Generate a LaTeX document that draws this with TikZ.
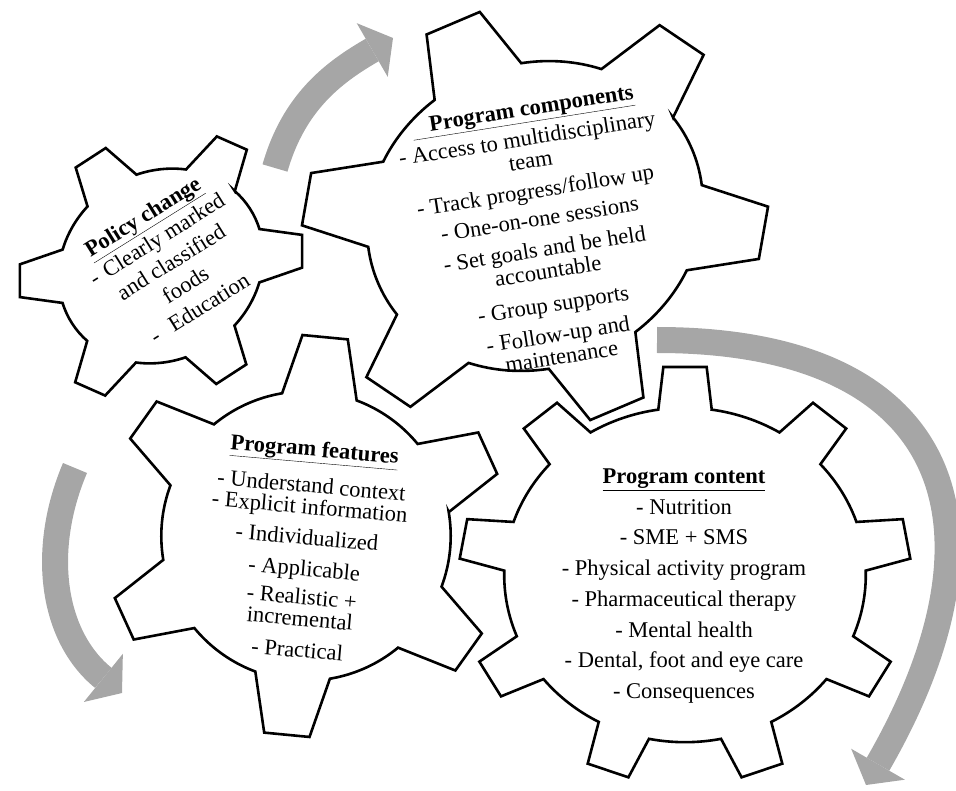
\documentclass[tikz,border=0pt]{standalone}
\usepackage{fontspec}
\setmainfont{Liberation Serif}
\usetikzlibrary{arrows.meta}
\definecolor{arrowgray}{RGB}{166,166,166}

% gear outline of unit radius: #1 teeth, #2 angle of first tooth,
% #3 root radius, #4 half tooth width at tip, #5 half tooth width at root
\newcommand{\gearoutline}[5]{%
  \pgfmathsetmacro{\gpitch}{360/#1}%
  \draw[gear] ({#2-#5}:#3)
    \foreach \k in {1,...,#1} {
      -- ({#2+(\k-1)*\gpitch-#4}:1) -- ({#2+(\k-1)*\gpitch+#4}:1)
      -- ({#2+(\k-1)*\gpitch+#5}:#3)
      arc[start angle={#2+(\k-1)*\gpitch+#5}, end angle={#2+\k*\gpitch-#5}, radius=#3]
    } -- cycle;
}

\begin{document}
\begin{tikzpicture}[x=1pt, y=1pt]
  \tikzset{
    gear/.style={draw, line width=2.6pt},
    cyclearrow/.style={draw=arrowgray, line width=26pt, -{Triangle[length=24pt, width=62pt, line width=0pt]}},
    geartext/.style={align=center, inner sep=0pt}
  }
  \useasboundingbox (0,0) rectangle (956,-791);

  % arrows between the gears
  \coordinate (toparrowstart)   at (275,-168);
  \coordinate (toparrowend)     at (393,-38);
  \coordinate (rightarrowstart) at (657,-340);
  \coordinate (rightarrowend)   at (866,-785);
  \coordinate (leftarrowstart)  at (75,-468);
  \coordinate (leftarrowend)    at (122,-693);

  \draw[cyclearrow] (toparrowstart) to[out=74, in=210] (toparrowend);
  \draw[cyclearrow] (rightarrowstart) .. controls +(295,0) and +(150,260) .. (rightarrowend);
  \draw[cyclearrow] (leftarrowstart) to[out=247, in=141] (leftarrowend);

  % gears
  \begin{scope}[shift={(161,-266)}, rotate=33, xscale=147, yscale=130]
    \gearoutline{6}{30}{0.72}{7}{16}
  \end{scope}
  \begin{scope}[shift={(535,-216)}, rotate=23, xscale=237, yscale=211]
    \gearoutline{6}{30}{0.72}{7}{16}
  \end{scope}
  \begin{scope}[shift={(306,-536)}, scale=201]
    \gearoutline{6}{24.5}{0.72}{6.5}{15}
  \end{scope}
  \begin{scope}[shift={(685,-575)}, xscale=226, yscale=209]
    \gearoutline{9}{90}{0.80}{5.5}{8.5}
  \end{scope}

  % texts
  \node[geartext, rotate=32, font=\fontsize{22.5}{27}\selectfont] (policy) at (171,-262)
    {\underline{\textbf{Policy change}}\\-\hspace{8pt}Clearly marked\\and classified\\foods\\-\hspace{14pt}Education};

  \node[geartext, rotate=9, font=\fontsize{22.5}{22.5}\selectfont] (components) at (542,-233)
    {\underline{\hspace{18pt}\textbf{Program components}}\\[6pt]
     - Access to multidisciplinary\\team\\[8pt]
     - Track progress/follow up\\[6pt]
     - One-on-one sessions\\[8pt]
     - Set goals and be held\\accountable\\[11pt]
     - Group supports\\[8pt]
     - Follow-up and\\maintenance};

  \node[geartext, rotate=-5, font=\fontsize{22.5}{21.5}\selectfont] (features) at (306,-549)
    {\underline{\textbf{Program features}}\\[13pt]
     - Understand context\\- Explicit information\\[9pt]
     - Individualized\\[10pt]
     - Applicable\\[7pt]
     - Realistic +\\incremental\\[10pt]
     - Practical};

  \node[geartext, font=\fontsize{22.5}{30.7}\selectfont] (content) at (684,-586)
    {\underline{\textbf{Program content}}\\- Nutrition\\- SME + SMS\\- Physical activity program\\
     - Pharmaceutical therapy\\- Mental health\\- Dental, foot and eye care\\- Consequences};
\end{tikzpicture}
\end{document}
